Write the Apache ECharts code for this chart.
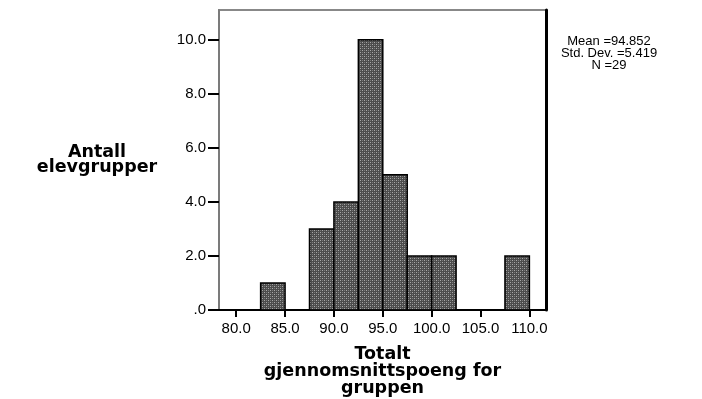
<!DOCTYPE html>
<html>
<head>
<meta charset="utf-8">
<script src="https://cdn.jsdelivr.net/npm/echarts@6/dist/echarts.min.js"></script>
<style>
  html, body { margin: 0; padding: 0; background: #fff; }
  #chart { width: 702px; height: 399px; }
</style>
</head>
<body>
<div id="chart"></div>
<script>
// histogram bins: [start, end], counts
const binStart = [82.5, 87.5, 90, 92.5, 95, 97.5, 100, 107.5];
const binEnd   = [85, 90, 92.5, 95, 97.5, 100, 102.5, 110];
const counts   = [1, 3, 4, 10, 5, 2, 2, 2];
const xTicks = [80, 85, 90, 95, 100, 105, 110];
const yTicks = [0, 2, 4, 6, 8, 10];
const statLines = ['Mean =94.852', 'Std. Dev. =5.419', 'N =29'];

// dotted grey fill like the SPSS bars
function makePattern() {
  const c = document.createElement('canvas');
  c.width = 4; c.height = 4;
  const ctx = c.getContext('2d');
  ctx.fillStyle = '#4c4c4c';
  ctx.fillRect(0, 0, 4, 4);
  ctx.fillStyle = '#a8a8a8';
  ctx.fillRect(0, 0, 1, 1);
  ctx.fillRect(2, 2, 1, 1);
  ctx.fillStyle = '#7a7a7a';
  ctx.fillRect(2, 0, 1, 1);
  ctx.fillRect(0, 2, 1, 1);
  return c;
}
const pattern = { image: makePattern(), repeat: 'repeat' };

const myChart = echarts.init(document.getElementById('chart'));
const tickFont = { color: '#000', fontSize: 15, fontFamily: 'Liberation Sans, Arial, sans-serif' };
const titleFont = { fontSize: 17.5, fontWeight: 'bold', color: '#000',
  fontFamily: 'DejaVu Sans, sans-serif', align: 'center' };

const option = {
  animation: false,
  grid: { left: 219, right: 156, top: 10, bottom: 89, show: true, outerBoundsMode: 'none',
    backgroundColor: 'transparent', borderColor: '#888', borderWidth: 2 },
  title: {
    text: statLines.join('\n'),
    left: 604,
    top: 30,
    textAlign: 'center',
    textStyle: { fontSize: 13, fontWeight: 'normal', lineHeight: 12, color: '#000',
      fontFamily: 'Liberation Sans, Arial, sans-serif', align: 'center' }
  },
  xAxis: {
    type: 'value',
    min: 78.24,
    max: 111.7,
    name: 'Totalt\ngjennomsnittspoeng for\ngruppen',
    nameLocation: 'middle',
    nameGap: 36,
    nameTextStyle: { ...titleFont, lineHeight: 17 },
    splitLine: { show: false },
    axisLine: { show: true, lineStyle: { color: '#000', width: 2 } },
    axisTick: { show: true, length: 7, customValues: xTicks, lineStyle: { color: '#000', width: 2 } },
    axisLabel: { customValues: xTicks, margin: 11, ...tickFont,
      formatter: v => v.toFixed(1) }
  },
  yAxis: [{
    type: 'value',
    min: 0,
    max: 11.1,
    name: 'Antall\nelevgrupper',
    nameLocation: 'middle',
    nameRotate: 0,
    nameGap: 122,
    nameTextStyle: { ...titleFont, lineHeight: 15 },
    splitLine: { show: false },
    axisLine: { show: true, lineStyle: { color: '#777', width: 1.5 } },
    axisTick: { show: true, length: 11, customValues: yTicks, lineStyle: { color: '#000', width: 2 } },
    axisLabel: { customValues: yTicks, margin: 13, ...tickFont,
      formatter: v => (v === 0 ? '.0' : v.toFixed(1)) }
  }, {
    type: 'value',
    position: 'right',
    min: 0,
    max: 11.1,
    splitLine: { show: false },
    axisLine: { show: true, lineStyle: { color: '#000', width: 3 } },
    axisTick: { show: false },
    axisLabel: { show: false }
  }],
  series: [{
    type: 'custom',
    xAxisIndex: 0,
    yAxisIndex: 0,
    data: counts.map((n, i) => [binStart[i], binEnd[i], n]),
    encode: { x: [0, 1], y: 2 },
    renderItem: (params, api) => {
      const p0 = api.coord([api.value(0), api.value(2)]);
      const p1 = api.coord([api.value(1), 0]);
      return {
        type: 'rect',
        shape: { x: p0[0], y: p0[1], width: p1[0] - p0[0], height: p1[1] - p0[1] },
        style: { fill: pattern, stroke: '#000', lineWidth: 1.5 }
      };
    }
  }]
};

myChart.setOption(option);
</script>
</body>
</html>
